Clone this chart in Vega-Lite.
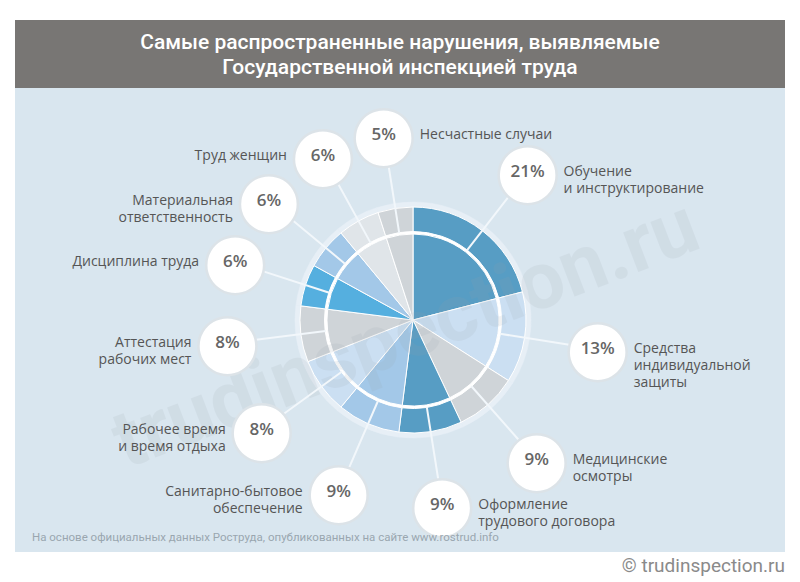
{
  "$schema": "https://vega.github.io/schema/vega-lite/v6.json",
  "background": "#ffffff",
  "padding": {"left": 15, "right": 15, "top": 20, "bottom": 4},
  "config": {
    "view": {"stroke": null},
    "concat": {"spacing": 0},
    "font": "Roboto"
  },
  "title": {
    "text": "© trudinspection.ru",
    "orient": "bottom",
    "anchor": "end",
    "offset": 5,
    "font": "Roboto",
    "fontSize": 19,
    "fontWeight": "normal",
    "color": "#8a8a8a"
  },
  "datasets": {
    "violations": [
      {"cat": "Обучение\nи инструктирование", "pct": 0.21},
      {"cat": "Средства\nиндивидуальной\nзащиты", "pct": 0.13},
      {"cat": "Медицинские\nосмотры", "pct": 0.09},
      {"cat": "Оформление\nтрудового договора", "pct": 0.09},
      {"cat": "Санитарно-бытовое\nобеспечение", "pct": 0.09},
      {"cat": "Рабочее время\nи время отдыха", "pct": 0.08},
      {"cat": "Аттестация\nрабочих мест", "pct": 0.08},
      {"cat": "Дисциплина труда", "pct": 0.06},
      {"cat": "Материальная\nответственность", "pct": 0.06},
      {"cat": "Труд женщин", "pct": 0.06},
      {"cat": "Несчастные случаи", "pct": 0.05}
    ]
  },
  "vconcat": [
    {
      "width": 770,
      "height": 68,
      "view": {"fill": "#787674"},
      "data": {"values": [{"t": "Самые распространенные нарушения, выявляемые\nГосударственной инспекцией труда"}]},
      "mark": {"type": "text", "lineBreak": "\n", "lineHeight": 25, "fontSize": 21, "fontWeight": 500, "font": "Roboto", "color": "#ffffff", "align": "center", "baseline": "middle", "dy": -11},
      "encoding": {"text": {"field": "t"}}
    },
    {
      "hconcat": [
        {
          "width": 26,
          "height": 464,
          "view": {"fill": "#d9e6ef"},
          "data": {"values": [{"e": ""}]},
          "mark": {"type": "text"},
          "encoding": {"text": {"field": "e"}}
        },
        {
          "width": 744,
          "height": 464,
          "view": {"fill": "#d9e6ef"},
          "title": {
            "text": "На основе официальных данных Роструда, опубликованных на сайте www.rostrud.info",
            "orient": "bottom",
            "anchor": "start",
            "frame": "group",
            "offset": -20,
            "dx": -9,
            "font": "Roboto",
            "fontSize": 11.5,
            "fontWeight": "normal",
            "color": "#9aa6af"
          },
          "data": {"name": "violations"},
          "layer": [
            {
              "mark": {"type": "arc", "innerRadius": 108, "outerRadius": 118, "fill": "#e7eff6", "stroke": "#e7eff6", "strokeWidth": 0.5},
              "encoding": {
                "theta": {"field": "pct", "type": "quantitative", "stack": true},
                "order": {"field": "pct", "sort": "descending"}
              }
            },
            {
              "mark": {"type": "arc", "innerRadius": 86, "outerRadius": 89, "fill": "#ffffff", "stroke": "#ffffff", "strokeWidth": 0.5},
              "encoding": {
                "theta": {"field": "pct", "type": "quantitative", "stack": true},
                "order": {"field": "pct", "sort": "descending"}
              }
            },
            {
              "mark": {"type": "arc", "innerRadius": 88.5, "outerRadius": 113, "stroke": "#ffffff", "strokeWidth": 1},
              "encoding": {
                "theta": {"field": "pct", "type": "quantitative", "stack": true},
                "order": {"field": "pct", "sort": "descending"},
                "color": {
                  "field": "cat", "type": "nominal", "legend": null,
                  "scale": {
                    "domain": ["Обучение\nи инструктирование", "Средства\nиндивидуальной\nзащиты", "Медицинские\nосмотры", "Оформление\nтрудового договора", "Санитарно-бытовое\nобеспечение", "Рабочее время\nи время отдыха", "Аттестация\nрабочих мест", "Дисциплина труда", "Материальная\nответственность", "Труд женщин", "Несчастные случаи"],
                    "range": ["#579dc4", "#cbdff2", "#cfd4d8", "#579dc4", "#a3c8e8", "#cbdff2", "#cfd4d8", "#55afdf", "#a3c8e8", "#e0e5e9", "#cfd4d8"]
                  }
                }
              }
            },
            {
              "mark": {"type": "arc", "innerRadius": 0, "outerRadius": 86, "stroke": "#ffffff", "strokeWidth": 1},
              "encoding": {
                "theta": {"field": "pct", "type": "quantitative", "stack": true},
                "order": {"field": "pct", "sort": "descending"},
                "color": {"field": "cat", "type": "nominal", "legend": null}
              }
            },
            {
              "data": {"values": [{"w": "trudinspection.ru"}]},
              "mark": {"type": "text", "angle": -21, "font": "Roboto", "fontSize": 80, "fontWeight": "bold", "color": "#9aa3ab", "opacity": 0.13, "align": "center", "baseline": "middle", "dx": -12, "dy": 12},
              "encoding": {"text": {"field": "w"}}
            },
            {
              "mark": {"type": "arc", "innerRadius": 88, "outerRadius": 163, "padAngle": 3, "fill": "#ffffff", "fillOpacity": 0, "stroke": "#f2f7fb", "strokeWidth": 2},
              "encoding": {
                "theta": {"field": "pct", "type": "quantitative", "stack": true},
                "order": {"field": "pct", "sort": "descending"}
              }
            },
            {
              "mark": {"type": "text", "radius": 187, "font": "DejaVu Sans", "fontSize": 76, "fill": "#ffffff", "stroke": "#dce3e8", "strokeWidth": 2.5, "align": "center", "baseline": "middle"},
              "encoding": {
                "theta": {"field": "pct", "type": "quantitative", "stack": true},
                "order": {"field": "pct", "sort": "descending"},
                "text": {"value": "●"}
              }
            },
            {
              "mark": {"type": "text", "radius": 187, "font": "Open Sans", "fontSize": 17, "fontWeight": 600, "color": "#666666", "align": "center", "baseline": "middle"},
              "encoding": {
                "theta": {"field": "pct", "type": "quantitative", "stack": true},
                "order": {"field": "pct", "sort": "descending"},
                "text": {"field": "pct", "type": "quantitative", "format": ".0%"}
              }
            },
            {
              "mark": {
                "type": "text", "radius": 187, "font": "Open Sans", "fontSize": 14, "color": "#555555", "baseline": "middle", "lineBreak": "\n", "lineHeight": 17,
                "align": {"expr": "((datum.pct_start + datum.pct_end) / 2 < 0.5 || (datum.pct_start + datum.pct_end) / 2 > 0.96) ? 'left' : 'right'"},
                "dx": {"expr": "((datum.pct_start + datum.pct_end) / 2 < 0.5 || (datum.pct_start + datum.pct_end) / 2 > 0.96) ? 36 : -36"}
              },
              "encoding": {
                "theta": {"field": "pct", "type": "quantitative", "stack": true},
                "order": {"field": "pct", "sort": "descending"},
                "text": {"field": "cat"}
              }
            }
          ]
        }
      ],
      "spacing": 0,
      "bounds": "flush"
    }
  ],
  "spacing": 0,
  "bounds": "flush"
}
